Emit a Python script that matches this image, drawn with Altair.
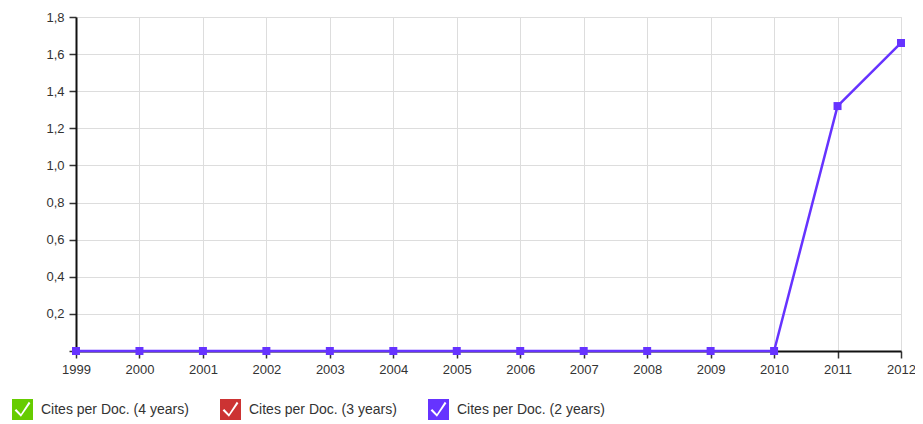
import altair as alt
import pandas as pd

years = [1999, 2000, 2001, 2002, 2003, 2004, 2005, 2006, 2007, 2008, 2009, 2010, 2011, 2012]
cites_2y = [0, 0, 0, 0, 0, 0, 0, 0, 0, 0, 0, 0, 1.32, 1.66]
series_names = ["Cites per Doc. (4 years)", "Cites per Doc. (3 years)", "Cites per Doc. (2 years)"]
series_colors = ["#66cc00", "#cc3333", "#6633ff"]
y_ticks = [0, 0.2, 0.4, 0.6, 0.8, 1.0, 1.2, 1.4, 1.6, 1.8]

df = pd.DataFrame({"year": years, "value": cites_2y, "series": series_names[2]})

# checkbox symbol: square with a checkmark hole
check_path = ("M-1,-1L1,-1L1,1L-1,1Z "
              "M-0.6,-0.05L-0.75,0.1L-0.15,0.7L0.75,-0.6L0.6,-0.75L-0.15,0.42Z")

x_enc = alt.X("year:Q", scale=alt.Scale(domain=[1999, 2012], nice=False, zero=False),
              axis=alt.Axis(values=years, format="d", title=None, grid=True,
                            gridColor="#dddddd", domainColor="#111111", domainWidth=2,
                            tickColor="#333333", tickSize=7, tickWidth=1.5, labelFlush=False,
                            labelFont="Liberation Sans", labelFontSize=13,
                            labelColor="#333333", labelPadding=5))
y_enc = alt.Y("value:Q", scale=alt.Scale(domain=[0, 1.8], nice=False),
              axis=alt.Axis(values=y_ticks, title=None, grid=True, gridColor="#dddddd",
                            domainColor="#111111", domainWidth=2, tickColor="#333333",
                            tickSize=7, tickWidth=1.5, labelFont="Liberation Sans",
                            labelFontSize=13, labelColor="#333333", labelPadding=5,
                            labelFlush=False,
                            labelExpr="datum.value == 0 ? '' : replace(format(datum.value, '.1f'), '.', ',')"))
color_scale = alt.Scale(domain=series_names, range=series_colors)
legend = alt.Legend(title=None, orient="none", direction="horizontal",
                    legendX=-64, legendY=382, symbolType=check_path,
                    symbolSize=441, symbolStrokeWidth=0, symbolOpacity=1,
                    labelFont="Liberation Sans", labelFontSize=14,
                    labelColor="#333333", labelOffset=8, columnPadding=31,
                    labelLimit=300)
color_enc = alt.Color("series:N", scale=color_scale, legend=legend)

line = alt.Chart(df).mark_line(strokeWidth=2.5).encode(x=x_enc, y=y_enc, color=color_enc)

points = alt.Chart(df).mark_point(shape="square", filled=True, size=64, opacity=1).encode(
    x=x_enc, y=y_enc, color=color_enc)

chart = alt.layer(line, points).properties(
    width=825, height=334,
    autosize=alt.AutoSizeParams(type="none"),
    padding={"left": 68, "top": 9, "right": 14, "bottom": 69},
).configure_view(stroke=None).configure(background="white")

chart.save("out.html", embed_options={"renderer": "svg", "actions": False})
